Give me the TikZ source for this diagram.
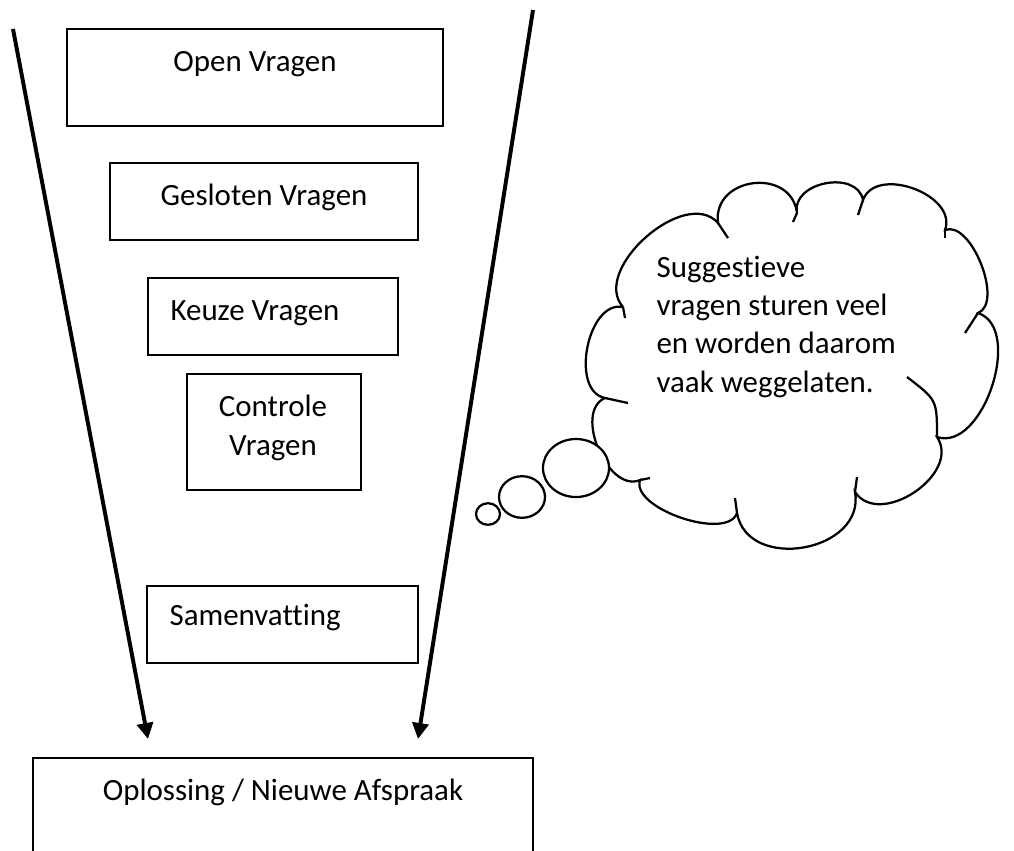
\documentclass[tikz,border=0pt]{standalone}
\usepackage{fontspec}
\setmainfont{Carlito}[Ligatures=NoCommon]
\usetikzlibrary{shapes.geometric, arrows.meta, fit}

\begin{document}
\begin{tikzpicture}[
    x = 0.0125cm, y = -0.0125cm, % one unit = one pixel of the sketch
    > = {Triangle[length=0.2cm, width=0.2cm]},
    font = \fontsize{11pt}{13.6pt}\selectfont,
    box/.style={draw, line width=0.9pt, inner sep=0pt},
    txt/.style={inner sep=0pt, anchor=base},
    funnel/.style={->, line width=1.4pt},
    bubble/.style={ellipse, draw, fill=white, line width=0.8pt, inner sep=0pt},
    cloudline/.style={line width=0.8pt},
    puff/.style={bend left=90, looseness=#1}
]
\useasboundingbox (0,0) rectangle (1014,850);

% --- FUNNEL: the question boxes ---
\node[box, fit={(67,29) (443,126)}] (open) {};
\node[txt] (opentxt) at (255,71) {Open Vragen};

\node[box, fit={(110,163) (418,240)}] (gesloten) {};
\node[txt] (geslotentxt) at (264,205) {Gesloten Vragen};

\node[box, fit={(148,278) (398,355)}] (keuze) {};
\node[txt, anchor=base west] (keuzetxt) at (170,320) {Keuze Vragen};

\node[box, fit={(187,374) (361,490)}] (controle) {};
\node[txt, align=center] (controletxt) at (273,455) {Controle\\Vragen}; % base = last line

\node[box, fit={(147,586) (418,663)}] (samen) {};
\node[txt, anchor=base west] (samentxt) at (169,625) {Samenvatting};

% --- BOTTOM: the result ---
\node[box, fit={(33,758) (533,880)}] (result) {};
\node[txt] (resulttxt) at (283,800) {Oplossing / Nieuwe Afspraak};

% --- The funnel sides ---
\coordinate (ltop) at (13,29);
\coordinate (lend) at (148,739);
\coordinate (rtop) at (533,10);
\coordinate (rend) at (418,739);
\draw[funnel] (ltop) -- (lend);
\draw[funnel] (rtop) -- (rend);

% --- RIGHT: thought cloud ---
\draw[cloudline] (623,307) to[puff=1.0] (718,223) to[puff=1.5] (797,213)
    to[puff=1.2] (863,200) to[puff=1.1] (945,230) to[puff=0.8] (978,313)
    to[puff=0.95] (937,437) to[puff=1.15] (855,492) to[puff=1.3] (737,513)
    to[puff=0.75] (640,480) to[puff=1.0] (605,398) to[puff=1.0] (623,307);

% inner stubs of the puffs
\draw[cloudline] (718,223) -- (728,238);
\draw[cloudline] (797,213) -- (793,222);
\draw[cloudline] (863,200) -- (858,215);
\draw[cloudline] (945,230) -- (945,238);
\draw[cloudline] (978,313) -- (965,333);
\draw[cloudline] (937,437) .. controls (937,400) .. (907,377);
\draw[cloudline] (855,492) -- (857,477);
\draw[cloudline] (737,513) -- (735,498);
\draw[cloudline] (640,480) -- (650,478);
\draw[cloudline] (605,398) -- (628,403);
\draw[cloudline] (623,307) -- (625,318);

% the small bubbles
\node[bubble, minimum width=0.825cm, minimum height=0.725cm] (bubble1) at (576,468) {};
\node[bubble, minimum width=0.575cm, minimum height=0.52cm] (bubble2) at (522,497) {};
\node[bubble, minimum width=0.3cm, minimum height=0.27cm] (bubble3) at (488,514) {};

\node[txt, anchor=base west, align=left] (note) at (656,392)
    {Suggestieve\\vragen sturen veel\\en worden daarom\\vaak weggelaten.};

\end{tikzpicture}
\end{document}
